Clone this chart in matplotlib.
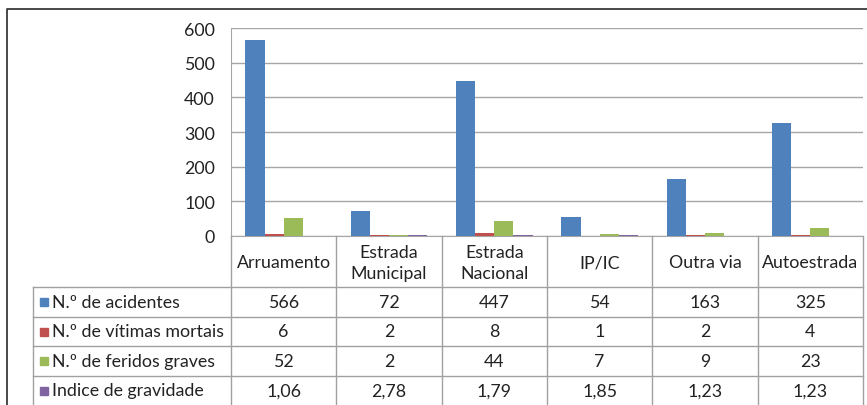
import numpy as np
import matplotlib.pyplot as plt

plt.rcParams['font.family'] = ['Lato', 'DejaVu Sans']

# dados
categorias = ['Arruamento', 'Estrada\nMunicipal', 'Estrada\nNacional', 'IP/IC', 'Outra via', 'Autoestrada']
series = ['N.º de acidentes', 'N.º de vítimas mortais', 'N.º de feridos graves', 'Indice de gravidade']
acidentes = [566, 72, 447, 54, 163, 325]
mortais = [6, 2, 8, 1, 2, 4]
feridos = [52, 2, 44, 7, 9, 23]
gravidade = [1.06, 2.78, 1.79, 1.85, 1.23, 1.23]
yticks = [0, 100, 200, 300, 400, 500, 600]
cores = ['#4F81BD', '#C0504D', '#9BBB59', '#8064A2']

valores = [acidentes, mortais, feridos, gravidade]
textos = [[str(v) for v in acidentes],
          [str(v) for v in mortais],
          [str(v) for v in feridos],
          [('%.2f' % v).replace('.', ',') for v in gravidade]]

W, H = 867, 406
fs = 12.8
fig = plt.figure(figsize=(W/100, H/100), dpi=100)

# area do grafico (pixels)
L, R, T, B = 231, 863, 29, 237
ax = fig.add_axes([L/W, 1-B/H, (R-L)/W, (B-T)/H])
n = len(categorias)
x = np.arange(n)
w = 1/5.5
for j, vals in enumerate(valores):
    ax.bar(x + (j-1.5)*w, vals, w, color=cores[j], zorder=3)
ax.set_xlim(-0.5, n-0.5)
ax.set_ylim(0, 600)
ax.set_yticks(yticks)
ax.set_xticks([])
ax.tick_params(axis='y', length=0, labelsize=fs, pad=11.5, colors='#222222')
ax.grid(axis='y', color='#a6a6a6', lw=1, zorder=0)
for s in ['top', 'right']:
    ax.spines[s].set_visible(False)
for s in ['left', 'bottom']:
    ax.spines[s].set_color('#a6a6a6')

# tabela de dados
ov = fig.add_axes([0, 0, 1, 1])
ov.set_xlim(0, W)
ov.set_ylim(H, 0)
ov.axis('off')

lc = '#a0a0a0'
xe = L + np.arange(n+1)*(R-L)/n
rows = [288, 318, 347, 377, 410]
tl = 33
for xv in xe:
    ov.plot([xv, xv], [B, H+2], color=lc, lw=1)
ov.plot([tl, tl], [rows[0], H+2], color=lc, lw=1)
for yv in rows[:-1]:
    ov.plot([tl, R], [yv, yv], color=lc, lw=1)

for i, c in enumerate(categorias):
    ov.text((xe[i]+xe[i+1])/2, (B+rows[0])/2+1, c, ha='center', va='center',
            fontsize=fs, color='#222222', linespacing=1.35)

for j in range(len(series)):
    yc = (rows[j]+rows[j+1])/2 if j < 3 else 391.5
    ov.add_patch(plt.Rectangle((40, yc-4), 8, 8, color=cores[j]))
    ov.text(52, yc, series[j], ha='left', va='center', fontsize=fs, color='#222222')
    for i in range(n):
        ov.text((xe[i]+xe[i+1])/2, yc, textos[j][i], ha='center', va='center',
                fontsize=fs, color='#222222')

# moldura exterior
ov.plot([7, 7, W], [H+2, 10, 10], color='#3a3a3a', lw=1.3)

fig.savefig('out.png', dpi=100)
